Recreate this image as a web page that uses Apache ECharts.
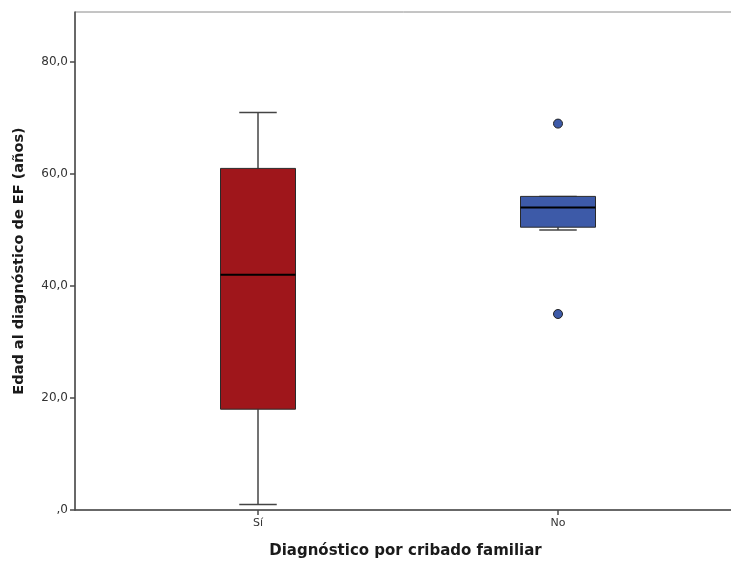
<!DOCTYPE html>
<html>
<head>
<meta charset="utf-8">
<script src="https://cdn.jsdelivr.net/npm/echarts@6/dist/echarts.min.js"></script>
<style>
html,body{margin:0;padding:0;background:#fff;}
#c{width:731px;height:561px;}
</style>
</head>
<body>
<div id="c"></div>
<script>
// Data
var categories = ['Sí', 'No'];
var whiskerLow = [1, 50];
var q1 = [18, 50.5];
var median = [42, 54];
var q3 = [61, 56];
var whiskerHigh = [71, 56];
var outliers = [['No', 69], ['No', 35]];
var fills = ['#9f161b', '#3d5aa8'];
var yTicks = [0, 20, 40, 60, 80];

var boxData = categories.map(function (c, i) {
  return [i + 1, whiskerLow[i], q1[i], median[i], q3[i], whiskerHigh[i]];
});
var outlierData = outliers.map(function (o) {
  return [categories.indexOf(o[0]) + 1, o[1]];
});

var chart = echarts.init(document.getElementById('c'));

function renderBox(params, api) {
  var x = api.value(0);
  var lo = api.coord([x, api.value(1)]);
  var b1 = api.coord([x, api.value(2)]);
  var md = api.coord([x, api.value(3)]);
  var b3 = api.coord([x, api.value(4)]);
  var hi = api.coord([x, api.value(5)]);
  var band = api.size([1, 0])[0];
  var bw = band * 0.25;
  var cw = bw * 0.5;
  var cx = lo[0];
  var wStyle = { stroke: '#444', lineWidth: 1.5 };
  var children = [];
  children.push({ type: 'line', shape: { x1: cx, y1: b3[1], x2: cx, y2: hi[1] }, style: wStyle });
  children.push({ type: 'line', shape: { x1: cx, y1: b1[1], x2: cx, y2: lo[1] }, style: wStyle });
  children.push({ type: 'line', shape: { x1: cx - cw / 2, y1: hi[1], x2: cx + cw / 2, y2: hi[1] }, style: wStyle });
  children.push({ type: 'line', shape: { x1: cx - cw / 2, y1: lo[1], x2: cx + cw / 2, y2: lo[1] }, style: wStyle });
  children.push({
    type: 'rect',
    shape: { x: cx - bw / 2, y: b3[1], width: bw, height: b1[1] - b3[1] },
    style: { fill: fills[params.dataIndex], stroke: '#2a2a2a', lineWidth: 1 }
  });
  children.push({ type: 'line', shape: { x1: cx - bw / 2, y1: md[1], x2: cx + bw / 2, y2: md[1] }, style: { stroke: '#000', lineWidth: 2 } });
  return { type: 'group', children: children };
}

var option = {
  animation: false,
  backgroundColor: '#fff',
  grid: {
    left: 75, top: 12, width: 661, height: 498,
    outerBoundsMode: 'none',
    containLabel: false,
    show: true, borderColor: '#8a8a8a', borderWidth: 1, backgroundColor: 'transparent'
  },
  xAxis: {
    type: 'value',
    min: 0.39,
    max: 0.39 + 661 / 300,
    name: 'Diagnóstico por cribado familiar',
    nameLocation: 'middle',
    nameGap: 34,
    nameTextStyle: { fontFamily: 'DejaVu Sans', fontWeight: 'bold', fontSize: 15, color: '#1a1a1a' },
    splitLine: { show: false },
    axisLine: { show: true, lineStyle: { color: '#4a4a4a', width: 1.5 } },
    axisTick: { show: true, length: 5, customValues: [1, 2], lineStyle: { color: '#4a4a4a', width: 1.5 } },
    axisLabel: {
      customValues: [1, 2],
      margin: 8,
      fontFamily: 'DejaVu Sans', fontSize: 11, color: '#333',
      formatter: function (v) { return categories[Math.round(v) - 1] || ''; }
    }
  },
  yAxis: {
    type: 'value',
    min: 0,
    max: 498 / 5.6,
    name: 'Edad al diagnóstico de EF (años)',
    nameLocation: 'middle',
    nameGap: 48,
    nameTextStyle: { fontFamily: 'DejaVu Sans', fontWeight: 'bold', fontSize: 14.5, color: '#1a1a1a' },
    splitLine: { show: false },
    axisLine: { show: true, lineStyle: { color: '#4a4a4a', width: 1.5 } },
    axisTick: { show: true, length: 5, customValues: yTicks, lineStyle: { color: '#4a4a4a', width: 1.5 } },
    axisLabel: {
      customValues: yTicks,
      margin: 7,
      fontFamily: 'DejaVu Sans', fontSize: 12, color: '#333',
      formatter: function (v) { return v === 0 ? ',0' : v.toFixed(1).replace('.', ','); }
    }
  },
  series: [
    {
      type: 'custom',
      renderItem: renderBox,
      encode: { x: 0, y: [1, 2, 3, 4, 5] },
      data: boxData,
      clip: false
    },
    {
      type: 'scatter',
      data: outlierData,
      symbol: 'circle',
      symbolSize: 9,
      itemStyle: { color: '#3d5aa8', opacity: 1, borderColor: '#222', borderWidth: 1 }
    }
  ]
};
chart.setOption(option);
</script>
</body>
</html>
